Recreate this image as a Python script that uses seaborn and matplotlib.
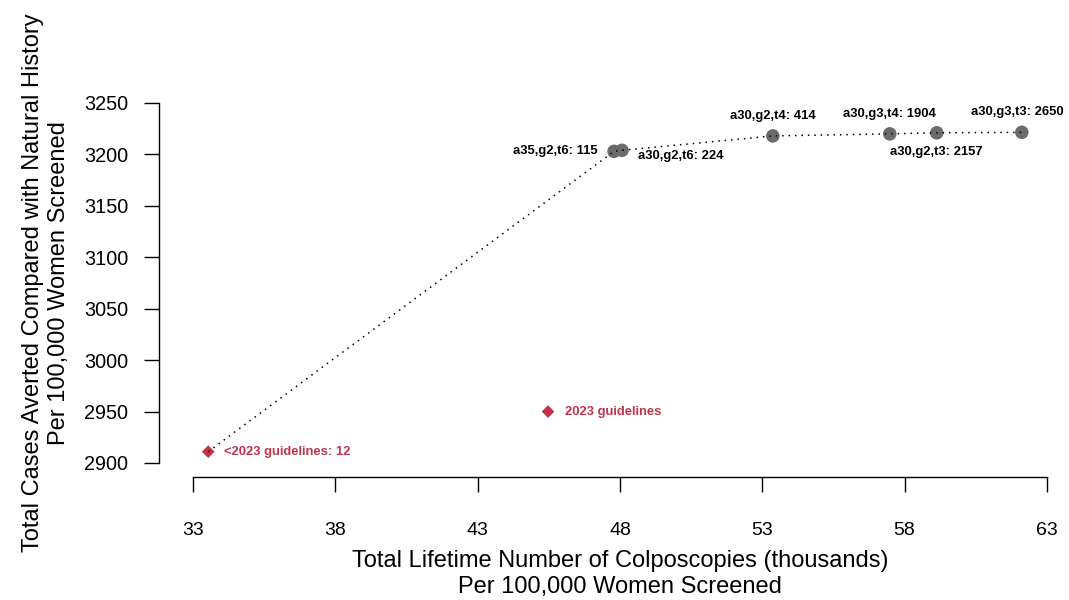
import matplotlib
matplotlib.use("Agg")
import matplotlib.pyplot as plt
import seaborn as sns
import pandas as pd

# ---- data ----
labels = ["<2023 guidelines: 12", "2023 guidelines", "a35,g2,t6: 115", "a30,g2,t6: 224",
          "a30,g2,t4: 414", "a30,g3,t4: 1904", "a30,g2,t3: 2157", "a30,g3,t3: 2650"]
colposcopies = [33.53, 45.47, 47.79, 48.07, 53.37, 57.48, 59.13, 62.12]
cases_averted = [2911, 2950, 3203, 3204, 3218, 3220, 3221, 3221.5]
kind = ["guideline", "guideline", "strategy", "strategy", "strategy", "strategy", "strategy", "strategy"]
on_frontier = [True, False, True, True, True, True, True, True]

x_ticks = [33, 38, 43, 48, 53, 58, 63]
y_ticks = [2900, 2950, 3000, 3050, 3100, 3150, 3200, 3250]

df = pd.DataFrame({"x": colposcopies, "y": cases_averted, "label": labels,
                   "kind": kind, "frontier": on_frontier})

# ---- style ----
sns.set_theme(style="ticks")
plt.rcParams["font.family"] = ["Liberation Sans", "DejaVu Sans"]

RED = "#C4314B"
GREY = "#6B6B6B"

fig = plt.figure(figsize=(10.69, 6.0), dpi=100)
ax = fig.add_axes([159 / 1069, 1 - 477.4 / 600, (1081 - 159) / 1069, (477.4 - 88.6) / 600])

sns.scatterplot(data=df, x="x", y="y", hue="kind", style="kind", size="kind",
                palette={"guideline": RED, "strategy": GREY},
                markers={"guideline": "D", "strategy": "o"},
                sizes={"guideline": 42, "strategy": 95},
                edgecolor="none", legend=False, ax=ax, zorder=2)

sns.lineplot(data=df[df["frontier"]], x="x", y="y", sort=False, color="black",
             linewidth=1.1, linestyle=(0, (1, 3.2)), ax=ax, zorder=3, estimator=None)

# label placement (offsets in points, alignment)
placement = {
    "<2023 guidelines: 12": (11.5, 0, "left", "center"),
    "2023 guidelines": (12, 0, "left", "center"),
    "a35,g2,t6: 115": (-11.5, 0.5, "right", "center"),
    "a30,g2,t6: 224": (11.5, -4.3, "left", "center"),
    "a30,g2,t4: 414": (0, 14.4, "center", "center"),
    "a30,g3,t4: 1904": (0, 14.4, "center", "center"),
    "a30,g2,t3: 2157": (0, -13.8, "center", "center"),
    "a30,g3,t3: 2650": (-3, 14.4, "center", "center"),
}
for _, r in df.iterrows():
    dx, dy, ha, va = placement[r["label"]]
    ax.annotate(r["label"], (r["x"], r["y"]), xytext=(dx, dy), textcoords="offset points",
                ha=ha, va=va, fontsize=9.4, fontweight="bold",
                color=RED if r["kind"] == "guideline" else "black")

# axes in R base style
ax.set_xlim(31.8, 64.2)
ax.set_ylim(2886, 3264)
ax.set_xticks(x_ticks)
ax.set_yticks(y_ticks)
ax.set_xticklabels([str(t) for t in x_ticks])
ax.set_yticklabels([str(t) for t in y_ticks])
for s in ["top", "right"]:
    ax.spines[s].set_visible(False)
ax.spines["bottom"].set_bounds(33, 63)
ax.spines["left"].set_bounds(2900, 3250)
for s in ["bottom", "left"]:
    ax.spines[s].set_linewidth(1.0)
    ax.spines[s].set_color("black")
ax.tick_params(axis="x", length=11, width=1.0, pad=21, labelsize=14, colors="black")
ax.tick_params(axis="y", length=11, width=1.0, pad=11, labelsize=14.3, colors="black")

ax.set_xlabel("Total Lifetime Number of Colposcopies (thousands)\nPer 100,000 Women Screened",
              fontsize=17, labelpad=8, linespacing=1.25, color="black")
ax.set_ylabel("Total Cases Averted Compared with Natural History\nPer 100,000 Women Screened",
              fontsize=17, labelpad=10, linespacing=1.25, color="black")
ax.grid(False)

fig.savefig("out.png", dpi=100)
